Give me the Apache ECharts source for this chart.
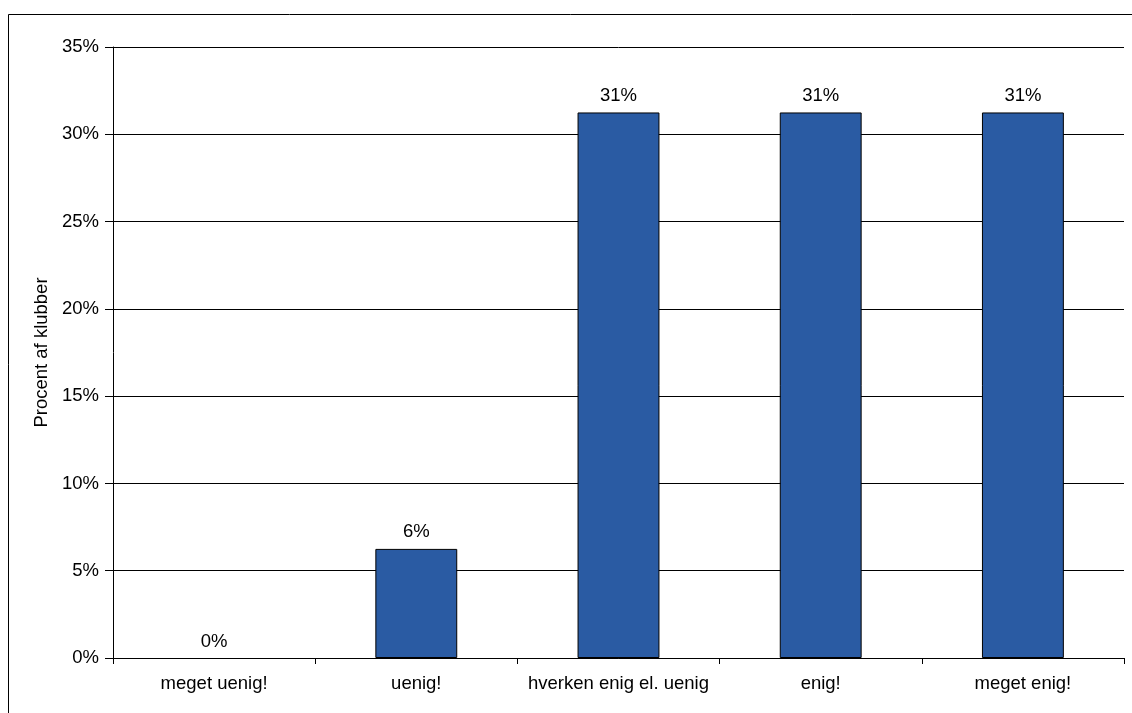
<!DOCTYPE html>
<html><head><meta charset="utf-8">
<script src="https://cdn.jsdelivr.net/npm/echarts@6/dist/echarts.min.js"></script>
<style>html,body{margin:0;padding:0;background:#fff}#c{width:1132px;height:713px}</style>
</head><body><div id="c"></div>
<script>
var categories = ['meget uenig!', 'uenig!', 'hverken enig el. uenig', 'enig!', 'meget enig!'];
var values = [0, 6.25, 31.25, 31.25, 31.25];
var yTicks = [0, 5, 10, 15, 20, 25, 30, 35];
var yAxisName = 'Procent af klubber';

var font = 'Liberation Sans, Arial, Helvetica, sans-serif';
var fs = 18.5;
var barData = values.map(function (v) {
  return v === 0 ? {value: v, itemStyle: {borderWidth: 0}} : v;
});
var chart = echarts.init(document.getElementById('c'), null, {renderer: 'canvas'});
chart.setOption({
  animation: false,
  backgroundColor: '#fff',
  graphic: [{
    type: 'rect', shape: {x: 8.5, y: 14.5, width: 1140, height: 720},
    style: {fill: 'none', stroke: '#000', lineWidth: 1}, silent: true, z: -1
  }],
  grid: {left: 113, right: 8, top: 47, bottom: 55, containLabel: false},
  xAxis: {
    type: 'category', data: categories, z: 10,
    axisLine: {lineStyle: {color: '#000', width: 1}},
    axisTick: {show: true, alignWithLabel: false, length: 6, lineStyle: {color: '#000'}},
    axisLabel: {color: '#000', fontFamily: font, fontSize: fs, margin: 16, interval: 0}
  },
  yAxis: {
    type: 'value', min: yTicks[0], max: yTicks[yTicks.length - 1], interval: 5,
    name: yAxisName, nameLocation: 'middle', nameGap: 61, nameRotate: 90,
    nameTextStyle: {color: '#000', fontFamily: font, fontSize: fs},
    axisLine: {show: true, lineStyle: {color: '#000', width: 1}},
    axisTick: {show: true, length: 8, lineStyle: {color: '#000'}},
    axisLabel: {color: '#000', fontFamily: font, fontSize: fs, margin: 14,
      formatter: function (v) { return v + '%'; }},
    splitLine: {show: true, lineStyle: {color: '#000', width: 1}}
  },
  series: [{
    type: 'bar', data: barData, barWidth: '40.5%',
    itemStyle: {color: '#2A5BA3', borderColor: '#000', borderWidth: 1},
    label: {show: true, position: 'top', distance: 7, color: '#000', fontFamily: font, fontSize: fs,
      formatter: function (p) { return Math.round(p.value) + '%'; }}
  }]
});
</script></body></html>
